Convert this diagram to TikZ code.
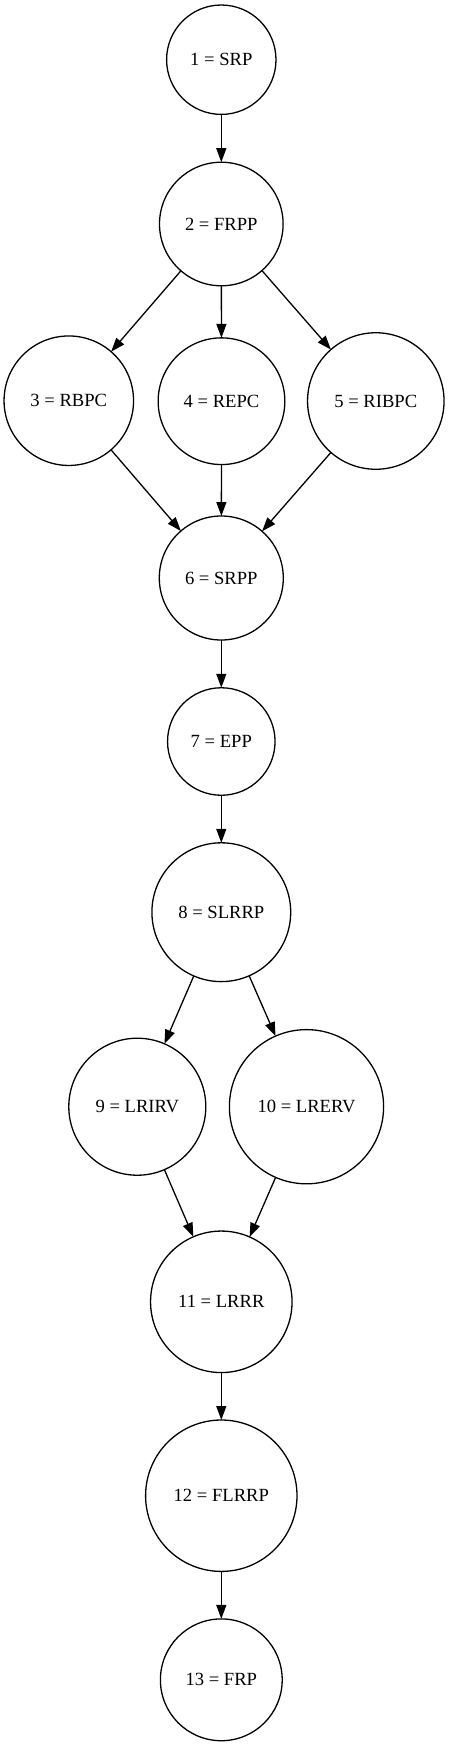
\documentclass[tikz,border=0pt]{standalone}
\usepackage{fontspec}
\setmainfont{Liberation Serif}
\usetikzlibrary{arrows.meta}
\begin{document}
\begin{tikzpicture}[x=1pt,y=-1pt,
  st/.style={circle,draw,line width=1.3pt,inner sep=0pt,outer sep=0pt,
    font=\fontsize{18.6}{22}\selectfont,text=black},
  ed/.style={line width=1.3pt,-{Triangle[length=14pt,width=10pt]}}]
\fill[white] (0,0) rectangle (449,1746);
\useasboundingbox (0,0) rectangle (449,1746);
\node[st,minimum size=109.4pt] (n1) at (221.3,59.7) {1 = SRP};
\node[st,minimum size=123.6pt] (n2) at (221.3,224) {2 = FRPP};
\node[st,minimum size=129.5pt] (n3) at (68.8,400.7) {3 = RBPC};
\node[st,minimum size=126.7pt] (n4) at (221.5,401.2) {4 = REPC};
\node[st,minimum size=136.5pt] (n5) at (375.8,401) {5 = RIBPC};
\node[st,minimum size=124pt] (n6) at (221.3,578) {6 = SRPP};
\node[st,minimum size=107.5pt] (n7) at (221.3,741.5) {7 = EPP};
\node[st,minimum size=138.8pt] (n8) at (221.3,912.2) {8 = SLRRP};
\node[st,minimum size=137pt] (n9) at (137.3,1106.7) {9 = LRIRV};
\node[st,minimum size=154.2pt] (n10) at (306.5,1106.7) {10 = LRERV};
\node[st,minimum size=141.5pt] (n11) at (221.3,1301.8) {11 = LRRR};
\node[st,minimum size=151.4pt] (n12) at (221.3,1495.7) {12 = FLRRP};
\node[st,minimum size=121.8pt] (n13) at (221.3,1679.8) {13 = FRP};
\draw[ed] (n1) -- (n2);
\draw[ed] (n2) -- (n3);
\draw[ed] (n2) -- (n4);
\draw[ed] (n2) -- (n5);
\draw[ed] (n3) -- (n6);
\draw[ed] (n4) -- (n6);
\draw[ed] (n5) -- (n6);
\draw[ed] (n6) -- (n7);
\draw[ed] (n7) -- (n8);
\draw[ed] (n8) -- (n9);
\draw[ed] (n8) -- (n10);
\draw[ed] (n9) -- (n11);
\draw[ed] (n10) -- (n11);
\draw[ed] (n11) -- (n12);
\draw[ed] (n12) -- (n13);
\end{tikzpicture}
\end{document}
